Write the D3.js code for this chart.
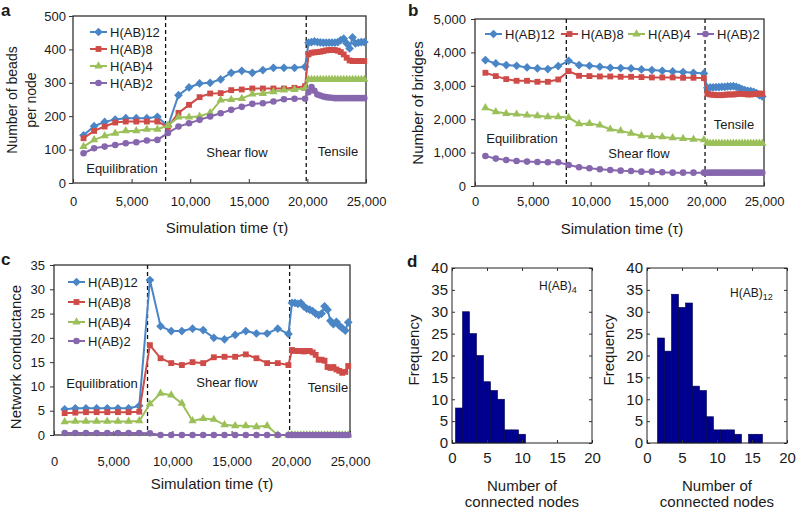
<!DOCTYPE html>
<html>
<head>
<meta charset="utf-8">
<script src="https://cdn.jsdelivr.net/npm/d3@7"></script>
<style>
  body { margin: 0; background: #fff; }
  text { font-family: "Liberation Sans", Arial, sans-serif; fill: #1a1a1a; }
</style>
</head>
<body>
<script>
// ---- data ----
const seriesNames = ["H(AB)12", "H(AB)8", "H(AB)4", "H(AB)2"];
const seriesColors = ["#4a86c6", "#cf4b48", "#9bc05a", "#8667ae"];

// sampling times (equilibration, shear flow, tensile)
const times = [900, 1800, 2700, 3600, 4500, 5400, 6300, 7200,
  8100, 9000, 9900, 10800, 11700, 12600, 13500, 14400, 15300, 16200, 17100, 18000, 18900, 19800,
  20100, 20350, 20600, 20850, 21100, 21350, 21600, 21850, 22100, 22350, 22600, 22850, 23100, 23350,
  23600, 23850, 24100, 24350, 24600, 24850];
const phaseBounds = [7900, 19900];
const timeTicks = [0, 5000, 10000, 15000, 20000, 25000];

// a: number of beads per node
const beadsAB12 = [143, 170, 183, 190, 194, 194, 194, 198,
  170, 263, 286, 298, 300, 310, 330, 336, 330, 338, 345, 345, 345, 348,
  420, 422, 424, 422, 421, 420, 420, 420, 420, 420, 422, 428, 432, 418, 403, 436, 418, 420, 422, 422];
const beadsAB8 = [134, 156, 169, 181, 184, 184, 184, 184,
  168, 210, 234, 257, 268, 269, 278, 280, 283, 283, 283, 283, 285, 290,
  385, 390, 391, 392, 393, 395, 397, 398, 398, 398, 396, 392, 385, 375, 367, 365, 365, 365, 365, 365];
const beadsAB4 = [109, 129, 141, 149, 156, 156, 161, 161,
  172, 197, 197, 200, 210, 248, 250, 253, 266, 268, 273, 278, 280, 283,
  310, 310, 310, 310, 310, 310, 310, 310, 310, 310, 310, 310, 310, 310, 310, 310, 310, 310, 310, 310];
const beadsAB2 = [89, 104, 109, 114, 119, 122, 127, 129,
  150, 169, 179, 189, 199, 209, 219, 228, 237, 239, 244, 251, 252, 252,
  272, 287, 276, 265, 262, 259, 257, 256, 255, 254, 254, 254, 254, 254, 254, 254, 254, 254, 254, 254];

// b: number of bridges
const bridgesAB12 = [3770, 3670, 3620, 3600, 3550, 3520, 3500, 3590,
  3750, 3620, 3600, 3570, 3540, 3530, 3520, 3490, 3470, 3450, 3430, 3410, 3390, 3370,
  2940, 2950, 2950, 2960, 2960, 2970, 2970, 2980, 2980, 2990, 2970, 2940, 2900, 2870, 2850, 2840, 2820, 2780, 2720, 2680];
const bridgesAB8 = [3390, 3290, 3200, 3150, 3150, 3120, 3120, 3190,
  3440, 3300, 3290, 3280, 3280, 3270, 3270, 3260, 3250, 3250, 3250, 3240, 3240, 3230,
  2760, 2740, 2730, 2720, 2720, 2720, 2730, 2740, 2740, 2740, 2750, 2760, 2760, 2750, 2740, 2740, 2750, 2760, 2770, 2760];
const bridgesAB4 = [2340, 2220, 2170, 2150, 2120, 2100, 2070, 2070,
  2050, 1860, 1870, 1820, 1700, 1650, 1580, 1500, 1480, 1470, 1440, 1420, 1400, 1380,
  1290, 1280, 1280, 1280, 1280, 1280, 1280, 1280, 1280, 1280, 1280, 1280, 1280, 1280, 1280, 1280, 1280, 1280, 1280, 1280];
const bridgesAB2 = [900, 820, 780, 750, 730, 720, 710, 710,
  630, 560, 530, 500, 480, 460, 450, 430, 430, 410, 400, 400, 400, 400,
  400, 400, 400, 400, 400, 400, 400, 400, 400, 400, 400, 400, 400, 400, 400, 400, 400, 400, 400, 400];

// c: network conductance
const condAB12 = [5.3, 5.5, 5.5, 5.5, 5.5, 5.5, 5.5, 6.0,
  31.9, 22.4, 21.4, 21.4, 21.9, 21.6, 20.0, 19.7, 20.6, 21.4, 20.9, 20.9, 21.9, 20.8,
  27.2, 27.2, 27.0, 27.2, 26.5, 26.0, 25.8, 25.5, 25.0, 24.7, 25.0, 26.5, 25.8, 23.5, 22.8, 23.3, 22.5, 22.0, 21.5, 23.2];
const condAB8 = [4.5, 4.6, 4.7, 4.7, 4.7, 4.7, 4.7, 4.8,
  18.5, 15.8, 14.8, 14.4, 15.0, 14.8, 16.0, 16.1, 16.1, 16.6, 15.8, 14.8, 14.8, 14.4,
  17.5, 17.3, 17.3, 17.3, 17.2, 17.3, 17.3, 17.0, 16.5, 15.5, 15.5, 15.3, 14.0, 13.8, 14.0, 13.5, 13.2, 12.8, 13.0, 14.2];
const condAB4 = [2.7, 2.8, 2.8, 2.8, 2.8, 2.8, 2.8, 2.9,
  6.4, 8.6, 8.2, 6.5, 2.9, 3.4, 3.2, 2.1, 1.9, 1.9, 1.7, 1.9, 0, 0,
  0, 0, 0, 0, 0, 0, 0, 0, 0, 0, 0, 0, 0, 0, 0, 0, 0, 0, 0, 0];
const condAB2 = [0.4, 0.4, 0.4, 0.4, 0.4, 0.4, 0.4, 0.4,
  0.35, 0, 0, 0, 0, 0, 0, 0, 0, 0, 0, 0, 0, 0,
  0, 0, 0, 0, 0, 0, 0, 0, 0, 0, 0, 0, 0, 0, 0, 0, 0, 0, 0, 0];

// d: histograms of connected nodes
const nodesAB4 = [1, 2, 3, 4, 5, 6, 7, 8, 9, 10];
const freqAB4 = [8, 30, 25, 20, 14, 12, 10, 3, 3, 2];
const nodesAB12 = [2, 3, 4, 5, 6, 7, 8, 9, 10, 11, 12, 13, 14, 15, 16];
const freqAB12 = [24, 21, 34, 31, 32, 13, 12, 6, 3, 3, 3, 2, 0, 2, 2];
const freqTicks = [0, 5, 10, 15, 20, 25, 30, 35, 40];
const nodeTicks = [0, 5, 10, 15, 20];

// ---- drawing ----
const svg = d3.select("body").append("svg").attr("width", 800).attr("height", 510);

// excel-like markers: diamond, square, triangle, circle
const diamond = {
  draw(ctx, size) {
    const r = Math.sqrt(size / 2);
    ctx.moveTo(0, -r); ctx.lineTo(r, 0); ctx.lineTo(0, r); ctx.lineTo(-r, 0); ctx.closePath();
  }
};
const markerTypes = [
  d3.symbol(diamond, 38), d3.symbol(d3.symbolSquare, 34),
  d3.symbol(d3.symbolTriangle, 30), d3.symbol(d3.symbolCircle, 34)
];

function addText(g, x, y, str, opts = {}) {
  const t = g.append("text").attr("x", x).attr("y", y)
    .attr("font-size", opts.size || 13)
    .attr("text-anchor", opts.anchor || "middle")
    .attr("dominant-baseline", opts.baseline || "central")
    .text(str);
  if (opts.rotate) t.attr("transform", `rotate(-90,${x},${y})`);
  if (opts.weight) t.attr("font-weight", opts.weight);
  return t;
}

function styleAxis(sel, size) {
  sel.select(".domain").remove();
  sel.selectAll("line").attr("stroke", "#333");
  sel.selectAll("text").attr("font-size", size || 13).attr("fill", "#1a1a1a")
    .attr("font-family", '"Liberation Sans", Arial, sans-serif');
}

function linePanel(cfg) {
  const g = svg.append("g");
  const x = d3.scaleLinear().domain([0, 25000]).range([cfg.left, cfg.right]);
  const y = d3.scaleLinear().domain([0, cfg.yMax]).range([cfg.bottom, cfg.top]);

  g.append("g").attr("transform", `translate(${cfg.left},0)`)
    .call(d3.axisLeft(y).tickValues(cfg.yTicks).tickFormat(d3.format(",")).tickSizeInner(4).tickSizeOuter(0).tickPadding(cfg.yPad))
    .call(styleAxis);
  g.append("g").attr("transform", `translate(0,${cfg.bottom})`)
    .call(d3.axisBottom(x).tickValues(timeTicks).tickFormat(d3.format(",")).tickSizeInner(-4).tickSizeOuter(0).tickPadding(cfg.xPad))
    .call(styleAxis);

  g.append("rect")
    .attr("x", cfg.left).attr("y", cfg.top)
    .attr("width", cfg.right - cfg.left).attr("height", cfg.bottom - cfg.top)
    .attr("fill", "none").attr("stroke", "#333").attr("stroke-width", 1.3);

  // phase boundaries
  g.selectAll(".phase").data(phaseBounds).join("line")
    .attr("x1", d => x(d)).attr("x2", d => x(d))
    .attr("y1", cfg.top).attr("y2", cfg.bottom)
    .attr("stroke", "#111").attr("stroke-width", 1.3).attr("stroke-dasharray", "4,3");

  const line = d3.line().x((d, i) => x(times[i])).y(d => y(d));
  cfg.series.forEach((vals, s) => {
    g.append("path").datum(vals).attr("d", line)
      .attr("fill", "none").attr("stroke", seriesColors[s]).attr("stroke-width", 2);
    g.selectAll(null).data(vals).join("path")
      .attr("d", markerTypes[s])
      .attr("transform", (d, i) => `translate(${x(times[i])},${y(d)})`)
      .attr("fill", seriesColors[s]);
  });

  // legend
  cfg.legend.forEach((pos, s) => {
    const lg = g.append("g").attr("transform", `translate(${pos[0]},${pos[1]})`);
    lg.append("line").attr("x1", 0).attr("x2", 17).attr("stroke", seriesColors[s]).attr("stroke-width", 2);
    lg.append("path").attr("d", markerTypes[s]).attr("transform", "translate(8.5,0)").attr("fill", seriesColors[s]);
    addText(lg, 20, 0, seriesNames[s], { anchor: "start" });
  });

  cfg.phases.forEach(p => addText(g, p[1], p[2], p[0]));

  addText(g, cfg.xTitle[0], cfg.xTitle[1], "Simulation time (τ)", { size: 15 });
  cfg.yTitle.forEach(t => addText(g, t[1], t[2], t[0], { size: t[3], rotate: true }));
  addText(g, cfg.label[1], cfg.label[2], cfg.label[0], { size: 17, weight: "bold", anchor: "start", baseline: "auto" });
}

linePanel({
  left: 73, right: 366, top: 16, bottom: 183, yMax: 500,
  yTicks: [0, 100, 200, 300, 400, 500], yPad: 3, xPad: 14,
  series: [beadsAB12, beadsAB8, beadsAB4, beadsAB2],
  legend: [[90, 32], [90, 49], [90, 66], [90, 83]],
  phases: [["Equilibration", 122, 168], ["Shear flow", 237, 152], ["Tensile", 338, 151]],
  xTitle: [227, 227],
  yTitle: [["Number of beads", 12, 100, 14], ["per node", 31, 100, 14]],
  label: ["a", 1, 16]
});

linePanel({
  left: 475, right: 764, top: 19, bottom: 186, yMax: 5000,
  yTicks: [0, 1000, 2000, 3000, 4000, 5000], yPad: 5, xPad: 11,
  series: [bridgesAB12, bridgesAB8, bridgesAB4, bridgesAB2],
  legend: [[485, 34], [561, 34], [628, 34], [697, 34]],
  phases: [["Equilibration", 522, 138], ["Shear flow", 639, 153], ["Tensile", 734, 124]],
  xTitle: [622, 228],
  yTitle: [["Number of bridges", 417, 103, 15]],
  label: ["b", 408, 16]
});

linePanel({
  left: 54, right: 350, top: 265, bottom: 435, yMax: 35,
  yTicks: [0, 5, 10, 15, 20, 25, 30, 35], yPad: 5, xPad: 22,
  series: [condAB12, condAB8, condAB4, condAB2],
  legend: [[68, 282], [68, 302], [68, 322], [68, 341]],
  phases: [["Equilibration", 102, 383], ["Shear flow", 227, 382], ["Tensile", 328, 387]],
  xTitle: [212, 483],
  yTitle: [["Network conductance", 15, 357, 15]],
  label: ["c", 1, 265]
});

function histPanel(cfg) {
  const g = svg.append("g");
  const x = d3.scaleLinear().domain([0, 20]).range([cfg.left, cfg.right]);
  const y = d3.scaleLinear().domain([0, 40]).range([cfg.bottom, cfg.top]);

  g.selectAll("rect.bar").data(cfg.bins).join("rect")
    .attr("x", d => x(d - 0.5)).attr("width", x(1) - x(0))
    .attr("y", (d, i) => y(cfg.freq[i]))
    .attr("height", (d, i) => y(0) - y(cfg.freq[i]))
    .attr("fill", "#00008f").attr("stroke", "#00004a").attr("stroke-width", 0.6);

  g.append("g").attr("transform", `translate(${cfg.left},0)`)
    .call(d3.axisLeft(y).tickValues(freqTicks).tickSizeInner(-3).tickSizeOuter(0).tickPadding(4))
    .call(s => styleAxis(s, 15));
  g.append("g").attr("transform", `translate(${cfg.right},0)`)
    .call(d3.axisRight(y).tickValues(freqTicks).tickSizeInner(-3).tickSizeOuter(0).tickFormat(""))
    .call(styleAxis);
  g.append("g").attr("transform", `translate(0,${cfg.bottom})`)
    .call(d3.axisBottom(x).tickValues(nodeTicks).tickSizeInner(-3).tickSizeOuter(0).tickPadding(9))
    .call(s => styleAxis(s, 15));
  g.append("g").attr("transform", `translate(0,${cfg.top})`)
    .call(d3.axisTop(x).tickValues(nodeTicks).tickSizeInner(-3).tickSizeOuter(0).tickFormat(""))
    .call(styleAxis);

  g.append("rect")
    .attr("x", cfg.left).attr("y", cfg.top)
    .attr("width", cfg.right - cfg.left).attr("height", cfg.bottom - cfg.top)
    .attr("fill", "none").attr("stroke", "#222").attr("stroke-width", 1);

  const lab = g.append("text").attr("x", cfg.tag[0]).attr("y", cfg.tag[1]).attr("font-size", 12);
  lab.append("tspan").text("H(AB)");
  lab.append("tspan").attr("font-size", 9).attr("dy", 3).text(cfg.tag[2]);

  addText(g, cfg.yTitleX, 350, "Frequency", { size: 15, rotate: true });
  const cx = (cfg.left + cfg.right) / 2;
  addText(g, cx, 485, "Number of", { size: 15 });
  addText(g, cx, 501, "connected nodes", { size: 15 });
}

histPanel({ left: 452, right: 592, top: 268, bottom: 443, bins: nodesAB4, freq: freqAB4,
  tag: [539, 290, "4"], yTitleX: 413 });
histPanel({ left: 647, right: 787, top: 268, bottom: 443, bins: nodesAB12, freq: freqAB12,
  tag: [730, 297, "12"], yTitleX: 608 });

addText(svg, 407, 267, "d", { size: 17, weight: "bold", anchor: "start", baseline: "auto" });
</script>
</body>
</html>
